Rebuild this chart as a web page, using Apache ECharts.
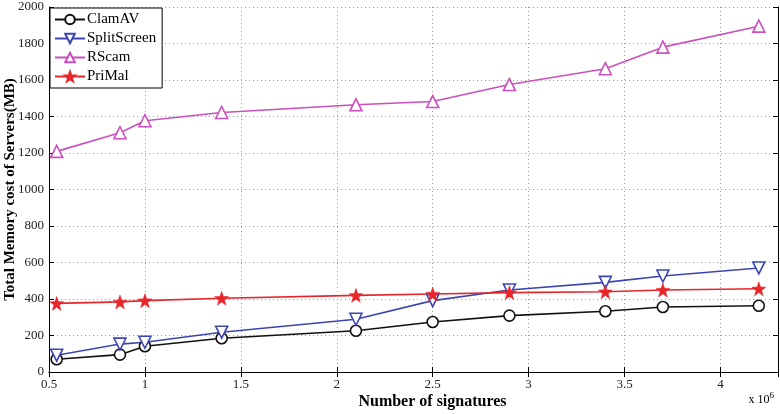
<!DOCTYPE html>
<html>
<head>
<meta charset="utf-8">
<script src="https://cdn.jsdelivr.net/npm/echarts@6/dist/echarts.min.js"></script>
<style>
  html, body { margin: 0; padding: 0; background: #fff; }
  #chart { width: 780px; height: 414px; }
</style>
</head>
<body>
<div id="chart"></div>
<script>
// number of signatures (x 10^6)
const signatures = [0.54, 0.87, 1.0, 1.4, 2.1, 2.5, 2.9, 3.4, 3.7, 4.2]
// memory (MB)
const clamav = [70, 95, 141, 185, 226, 274, 309, 333, 356, 363]
const splitScreen = [92, 153, 163, 218, 289, 391, 449, 491, 526, 570]
const rscam = [1209, 1311, 1377, 1422, 1464, 1482, 1575, 1662, 1780, 1895]
const primal = [376, 384, 391, 404, 420, 427, 435, 440, 449, 456]

const serif = 'Liberation Serif'
const star = 'path://M0,-10 L2.35,-3.24 L9.51,-3.09 L3.8,1.24 L5.88,8.09 L0,4 L-5.88,8.09 L-3.8,1.24 L-9.51,-3.09 L-2.35,-3.24 Z'

function pairs(ys) {
    return signatures.map((x, i) => [x, ys[i]])
}

const mychart = echarts.init(document.getElementById('chart'))

// the frame around the plot (top / right axes only carry ticks)
const frameX = {
    type: 'value', min: 0.5, max: 4.3, interval: 0.5, position: 'top',
    axisLine: { lineStyle: { color: '#000' } },
    axisTick: { inside: true, length: 5, lineStyle: { color: '#000' } },
    axisLabel: { show: false }, splitLine: { show: false }
}
const frameY = {
    type: 'value', min: 0, max: 2000, interval: 200, position: 'right',
    axisLine: { show: true, lineStyle: { color: '#000' } },
    axisTick: { show: true, inside: true, length: 5, lineStyle: { color: '#000' } },
    axisLabel: { show: false }, splitLine: { show: false }
}

mychart.setOption({
    animation: false,
    grid: { left: 49, right: 2, top: 7, bottom: 42, containLabel: false, outerBoundsMode: 'none' },
    legend: {
        orient: 'vertical',
        left: 50,
        top: 8,
        padding: [4, 6, 4, 4],
        itemGap: 4,
        itemWidth: 30,
        itemHeight: 12,
        borderColor: '#000',
        borderWidth: 1,
        backgroundColor: '#fff',
        textStyle: { fontFamily: serif, fontSize: 15, color: '#000', padding: [0, 0, 0, -3] },
        data: ['ClamAV', 'SplitScreen', 'RScam', 'PriMal']
    },
    xAxis: [
        {
            type: 'value', min: 0.5, max: 4.3, interval: 0.5,
            name: 'Number of signatures',
            nameLocation: 'middle',
            nameGap: 22,
            nameMoveOverlap: false,
            nameTextStyle: { fontFamily: serif, fontSize: 16, fontWeight: 'bold', color: '#000', padding: [0, 0, 0, 38] },
            axisLine: { lineStyle: { color: '#000' } },
            axisTick: { inside: true, length: 5, lineStyle: { color: '#000' } },
            axisLabel: { fontFamily: serif, fontSize: 13, color: '#222', margin: 6, showMaxLabel: false },
            splitLine: { show: true, lineStyle: { color: '#999', type: [1, 3] } }
        },
        frameX
    ],
    yAxis: [
        {
            type: 'value', min: 0, max: 2000, interval: 200,
            name: 'Total Memory cost of Servers(MB)',
            nameLocation: 'middle',
            nameGap: 31,
            nameMoveOverlap: false,
            nameTextStyle: { fontFamily: serif, fontSize: 15, fontWeight: 'bold', color: '#000' },
            axisLine: { show: true, lineStyle: { color: '#000' } },
            axisTick: { show: true, inside: true, length: 5, lineStyle: { color: '#000' } },
            axisLabel: { fontFamily: serif, fontSize: 13, color: '#222', margin: 5, formatter: v => String(v) },
            splitLine: { show: true, lineStyle: { color: '#999', type: [1, 3] } }
        },
        frameY
    ],
    graphic: [
        {
            type: 'text', right: 6, bottom: 8,
            style: {
                text: '{a|x 10}{b|6}',
                rich: {
                    a: { fontFamily: serif, fontSize: 12, color: '#222' },
                    b: { fontFamily: serif, fontSize: 9, color: '#222', verticalAlign: 'top', padding: [0, 0, 8, 0] }
                }
            }
        }
    ],
    series: [
        {
            name: 'ClamAV', type: 'line', data: pairs(clamav),
            symbol: 'circle', symbolSize: 11,
            itemStyle: { color: '#fff', borderColor: '#111', borderWidth: 1.6 },
            lineStyle: { color: '#111', width: 1.6 }
        },
        {
            name: 'SplitScreen', type: 'line', data: pairs(splitScreen),
            symbol: 'triangle', symbolRotate: 180, symbolSize: 12,
            itemStyle: { color: '#fff', borderColor: '#3c45b2', borderWidth: 1.6 },
            lineStyle: { color: '#3c45b2', width: 1.6 }
        },
        {
            name: 'RScam', type: 'line', data: pairs(rscam),
            symbol: 'triangle', symbolSize: 12,
            itemStyle: { color: '#fff', borderColor: '#cc4fbf', borderWidth: 1.6 },
            lineStyle: { color: '#cc4fbf', width: 1.6 }
        },
        {
            name: 'PriMal', type: 'line', data: pairs(primal),
            symbol: star, symbolSize: 14,
            itemStyle: { color: '#e8262a', borderColor: '#e8262a', borderWidth: 0.5 },
            lineStyle: { color: '#e8262a', width: 1.6 }
        }
    ]
})
</script>
</body>
</html>
